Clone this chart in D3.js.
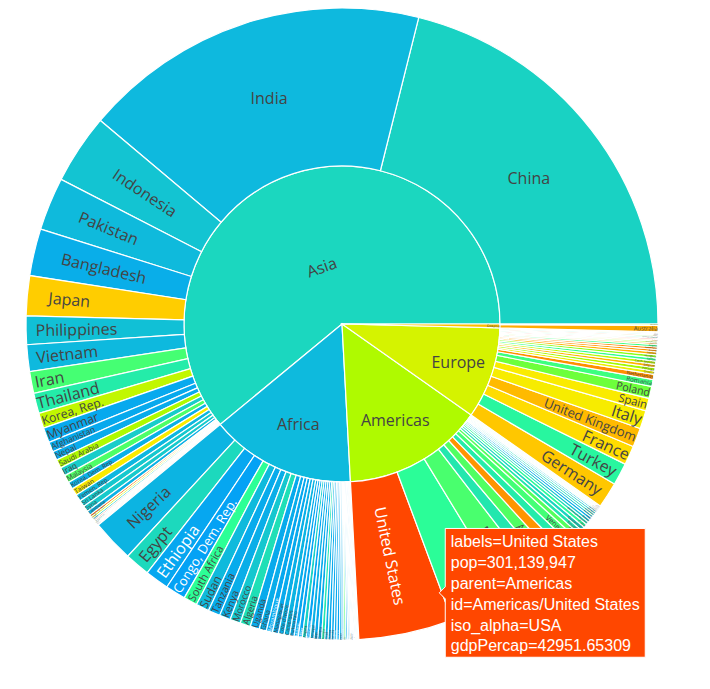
<!DOCTYPE html>
<html><head><meta charset="utf-8">
<script src="https://cdn.jsdelivr.net/npm/d3@7"></script>
<style>body{margin:0;background:#fff}svg{display:block}</style>
</head><body>
<svg id="chart" width="710" height="689"></svg>
<script>
// ---------------- data (gapminder 2007) ----------------
const continents = ["Africa", "Americas", "Asia", "Europe", "Oceania"];

const africaCountries = ["Algeria","Angola","Benin","Botswana","Burkina Faso","Burundi","Cameroon","Central African Republic","Chad","Comoros","Congo, Dem. Rep.","Congo, Rep.","Cote d'Ivoire","Djibouti","Egypt","Equatorial Guinea","Eritrea","Ethiopia","Gabon","Gambia","Ghana","Guinea","Guinea-Bissau","Kenya","Lesotho","Liberia","Libya","Madagascar","Malawi","Mali","Mauritania","Mauritius","Morocco","Mozambique","Namibia","Niger","Nigeria","Reunion","Rwanda","Sao Tome and Principe","Senegal","Sierra Leone","Somalia","South Africa","Sudan","Swaziland","Tanzania","Togo","Tunisia","Uganda","Zambia","Zimbabwe"];
const africaPop = [33333216,12420476,8078314,1639131,14326203,8390505,17696293,4369038,10238807,710960,64606759,3800610,18013409,496374,80264543,551201,4906585,76511887,1454867,1688359,22873338,9947814,1472041,35610177,2012649,3193942,6036914,19167654,13327079,12031795,3270065,1250882,33757175,19951656,2055080,12894865,135031164,798094,8860588,199579,12267493,6144562,9118773,43997828,42292929,1133066,38139640,5701579,10276158,29170398,11746035,12311143];
const africaGdp = [6223.367465,4797.231267,1441.284873,12569.85177,1217.032994,430.0706916,2042.09524,706.016537,1704.063724,986.1478792,277.5518587,3632.557798,1544.750112,2082.481567,5581.180998,12154.08975,641.3695236,690.8055759,13206.48452,752.7497265,1327.60891,942.6542111,579.231743,1463.249282,1569.331442,414.5073415,12057.49928,1044.770126,759.3499101,1042.581557,1803.151496,10956.99112,3820.17523,823.6856205,4811.060429,619.6768924,2013.977305,7670.122558,863.0884639,1598.435089,1712.472136,862.5407561,926.1410683,9269.657808,2602.394995,4513.480643,1107.482182,882.9699438,7092.923025,1056.380121,1271.211593,469.7092981];

const americasCountries = ["Argentina","Bolivia","Brazil","Canada","Chile","Colombia","Costa Rica","Cuba","Dominican Republic","Ecuador","El Salvador","Guatemala","Haiti","Honduras","Jamaica","Mexico","Nicaragua","Panama","Paraguay","Peru","Puerto Rico","Trinidad and Tobago","United States","Uruguay","Venezuela"];
const americasPop = [40301927,9119152,190010647,33390141,16284741,44227550,4133884,11416987,9319622,13755680,6939688,12572928,8502814,7483763,2780132,108700891,5675356,3242173,6667147,28674757,3942491,1056608,301139947,3447496,26084662];
const americasGdp = [12779.37964,3822.137084,9065.800825,36319.23501,13171.63885,7006.580419,9645.06142,8948.102923,6025.374752,6873.262326,5728.353514,5186.050003,1201.637154,3548.330846,7320.880262,11977.57496,2749.320965,9809.185636,4172.838464,7408.905561,19328.70901,18008.50924,42951.65309,10611.46299,11415.80569];

const asiaCountries = ["Afghanistan","Bahrain","Bangladesh","Cambodia","China","Hong Kong, China","India","Indonesia","Iran","Iraq","Israel","Japan","Jordan","Korea, Dem. Rep.","Korea, Rep.","Kuwait","Lebanon","Malaysia","Mongolia","Myanmar","Nepal","Oman","Pakistan","Philippines","Saudi Arabia","Singapore","Sri Lanka","Syria","Taiwan","Thailand","Vietnam","West Bank and Gaza","Yemen, Rep."];
const asiaPop = [31889923,708573,150448339,14131858,1318683096,6980412,1110396331,223547000,69453570,27499638,6426679,127467972,6053193,23301725,49044790,2505559,3921278,24821286,2874127,47761980,28901790,3204897,169270617,91077287,27601038,4553009,20378239,19314747,23174294,65068149,85262356,4018332,22211743];
const asiaGdp = [974.5803384,29796.04834,1391.253792,1713.778686,4959.114854,39724.97867,2452.210407,3540.651564,11605.71449,4471.061906,25523.2771,31656.06806,4519.461171,1593.06548,23348.13973,47306.98978,10461.05868,12451.6558,3095.772271,944,1091.359778,22316.19287,2605.94758,3190.481016,21654.83194,47143.17964,3970.095407,4184.548089,28718.27684,7458.396327,2441.576404,3025.349798,2280.769906];

const europeCountries = ["Albania","Austria","Belgium","Bosnia and Herzegovina","Bulgaria","Croatia","Czech Republic","Denmark","Finland","France","Germany","Greece","Hungary","Iceland","Ireland","Italy","Montenegro","Netherlands","Norway","Poland","Portugal","Romania","Serbia","Slovak Republic","Slovenia","Spain","Sweden","Switzerland","Turkey","United Kingdom"];
const europePop = [3600523,8199783,10392226,4552198,7322858,4493312,10228744,5468120,5238460,61083916,82400996,10706290,9956108,301931,4109086,58147733,684736,16570613,4627926,38518241,10642836,22276056,10150265,5447502,2009245,40448191,9031088,7554661,71158647,60776238];
const europeGdp = [5937.029526,36126.4927,33692.60508,7446.298803,10680.79282,14619.22272,22833.30851,35278.41874,33207.0844,30470.0167,32170.37442,27538.41188,18008.94444,36180.78919,40675.99635,28569.7197,9253.896111,36797.93332,49357.19017,15389.92468,20509.64777,10808.47561,9786.534714,18678.31435,25768.25759,28821.0637,33859.74835,37506.41907,8458.276384,33203.26128];

const oceaniaCountries = ["Australia","New Zealand"];
const oceaniaPop = [20434176,4115771];
const oceaniaGdp = [34435.36744,25185.00911];

// hovered sector shown in the reference
const hoverCountry = "United States";
const hoverIso = "USA";

// plotly "Rainbow" sequential scale
const rainbow = ["rgb(150,0,90)","rgb(0,0,200)","rgb(0,25,255)","rgb(0,152,255)","rgb(44,255,150)","rgb(151,255,0)","rgb(255,234,0)","rgb(255,111,0)","rgb(255,0,0)"];

// ---------------- build ----------------
const W = 710, H = 689, CX = 342, CY = 324, R = 316, FONT = 16;
const groupLists = {
  Africa: [africaCountries, africaPop, africaGdp],
  Americas: [americasCountries, americasPop, americasGdp],
  Asia: [asiaCountries, asiaPop, asiaGdp],
  Europe: [europeCountries, europePop, europeGdp],
  Oceania: [oceaniaCountries, oceaniaPop, oceaniaGdp]
};
const rootData = {name: "root", children: continents.map(c => {
  const [names, pops, gdps] = groupLists[c];
  return {name: c, children: names.map((n, i) => ({name: n, pop: pops[i], gdp: gdps[i]}))};
})};

const root = d3.hierarchy(rootData).sum(d => d.pop || 0).sort((a, b) => b.value - a.value);
d3.partition().size([2 * Math.PI, 3])(root);

root.each(d => { if (!d.children) d.colorVal = d.data.gdp; });
root.eachAfter(d => {
  if (d.children) d.colorVal = d3.sum(d.children, c => c.value * c.colorVal) / d.value;
});
const nodes = root.descendants().filter(d => d.depth > 0);
const cmid = root.colorVal;
const cmax = d3.max(nodes, d => d.colorVal), cmin = d3.min(nodes, d => d.colorVal);
const diff = Math.max(cmax - cmid, cmid - cmin);
const lo = cmid - diff, hi = cmid + diff;
const color = d3.scaleLinear()
  .domain(rainbow.map((_, i) => lo + (hi - lo) * i / (rainbow.length - 1)))
  .range(rainbow).interpolate(d3.interpolateRgb).clamp(true);

const rScale = d3.scaleLinear().domain([1, 3]).range([0, R]);
const arc = d3.arc()
  .startAngle(d => Math.PI / 2 - d.x0)
  .endAngle(d => Math.PI / 2 - d.x1)
  .innerRadius(d => rScale(d.y0))
  .outerRadius(d => rScale(d.y1));

const svg = d3.select("#chart");
svg.append("rect").attr("width", W).attr("height", H).attr("fill", "#fff");
const g = svg.append("g").attr("transform", `translate(${CX},${CY})`);

function isDark(c) {
  const rgb = d3.rgb(c);
  return (rgb.r * 299 + rgb.g * 587 + rgb.b * 114) / 1000 < 128;
}

g.selectAll("path.slice").data(nodes).join("path")
  .attr("class", "slice")
  .attr("d", arc)
  .attr("fill", d => color(d.colorVal))
  .attr("stroke", "#fff")
  .attr("stroke-width", 1.2);

// ---------------- labels (plotly-like inside text fitting) ----------------
const TEXTPAD = 3;
function angleDelta(a, b) {
  const t = 2 * Math.PI;
  const d = b - a + Math.PI;
  return ((d % t) + t) % t - Math.PI;
}
function calcMaxHalfSize(a, half, r, ring) {
  const q = a + 1 / (2 * Math.tan(half));
  return r * Math.min(1 / (Math.sqrt(q * q + 0.5) + q), ring / (Math.sqrt(a * a + ring / 2) + a));
}
function calcRCenter(a, b) { return Math.cos(b) - a * b; }
function normRot(x) { return (((x % 180) + 180 + 90) % 180) - 90; }
const deg = r => r * 180 / Math.PI;

function fit(d, w, h) {
  const r0 = rScale(d.y0), r1 = rScale(d.y1);
  const mid = (d.x0 + d.x1) / 2;
  const half = 0.5 * Math.min(angleDelta(d.x0, d.x1) || Math.PI, Math.PI);
  const ring = 1 - r0 / r1;
  const rIns = Math.min(1 / (1 + 1 / Math.sin(half)), ring / 2);
  const cands = [];
  const hz = {scale: rIns * r1 * 2 / Math.hypot(w, h), rCenter: 1 - rIns, rotate: 0};
  if (hz.scale >= 1) return {t: hz, mid, r1};
  cands.push(hz);
  const rr = Math.max(0, r1 - 2 * TEXTPAD);
  let a = w / h, s = calcMaxHalfSize(a, half, rr, ring);
  cands.push({scale: 2 * s / h, rCenter: calcRCenter(a, s / rr), rotate: normRot(-deg(mid))});
  a = h / w; s = calcMaxHalfSize(a, half, rr, ring);
  cands.push({scale: 2 * s / w, rCenter: calcRCenter(a, s / rr), rotate: normRot(-deg(mid) - 90)});
  let best = cands[0], mx = 0;
  cands.forEach(c => { if (mx < c.scale) { mx = c.scale; best = c; } });
  return {t: best, mid, r1};
}

const labels = g.selectAll("text.lbl").data(nodes).join("text")
  .attr("class", "lbl")
  .attr("text-anchor", "middle")
  .attr("font-family", '"Open Sans", verdana, arial, sans-serif')
  .attr("font-size", FONT)
  .attr("fill", d => isDark(color(d.colorVal)) ? "#fff" : "#444")
  .text(d => d.data.name);

labels.each(function(d) {
  const bb = this.getBBox();
  const {t, mid, r1} = fit(d, bb.width, FONT);
  const sc = Math.max(0, Math.min(1, t.scale));
  const tx = r1 * t.rCenter * Math.cos(mid);
  const ty = -r1 * t.rCenter * Math.sin(mid);
  const bcx = bb.x + bb.width / 2, bcy = bb.y + bb.height / 2;
  d3.select(this).attr("transform",
    `translate(${tx},${ty}) rotate(${t.rotate}) scale(${sc}) translate(${-bcx},${-bcy})`);
});

// ---------------- hover label ----------------
const hv = nodes.find(d => d.data.name === hoverCountry);
{
  const r1 = rScale(hv.y1), r0 = rScale(hv.y0);
  const mid = (hv.x0 + hv.x1) / 2;
  const half = 0.5 * Math.min(angleDelta(hv.x0, hv.x1) || Math.PI, Math.PI);
  const rIns = Math.min(1 / (1 + 1 / Math.sin(half)), (1 - r0 / r1) / 2);
  const hcx = CX + r1 * (1 - rIns) * Math.cos(mid);
  const hcy = CY - r1 * (1 - rIns) * Math.sin(mid);
  const tipX = hcx + rIns * r1, tipY = hcy;
  const bg = color(hv.colorVal);
  const fg = isDark(bg) ? "#fff" : "#444";
  const lines = [
    `labels=${hv.data.name}`,
    `pop=${d3.format(",")(hv.data.pop)}`,
    `parent=${hv.parent.data.name}`,
    `id=${hv.parent.data.name}/${hv.data.name}`,
    `iso_alpha=${hoverIso}`,
    `gdpPercap=${hv.data.gdp}`
  ];
  const lh = 20.8, pad = 5.5, arrow = 6;
  const hg = svg.append("g").attr("transform", `translate(${tipX},${tipY})`);
  const path = hg.append("path");
  const boxH = lines.length * lh + 4;
  const txt = hg.append("text")
    .attr("font-family", "Arial, 'Liberation Sans', sans-serif")
    .attr("font-size", 16).attr("fill", fg);
  lines.forEach((l, i) => {
    txt.append("tspan").attr("x", arrow + pad).attr("y", -boxH / 2 + 19 + i * lh).text(l);
  });
  const tw = txt.node().getBBox().width;
  const bw = tw + 2 * pad;
  path.attr("d", `M0,0L${arrow},${-arrow}V${-boxH / 2}H${arrow + bw}V${boxH / 2}H${arrow}V${arrow}Z`)
    .attr("fill", bg).attr("stroke", fg).attr("stroke-width", 1);
}
</script>
</body></html>
